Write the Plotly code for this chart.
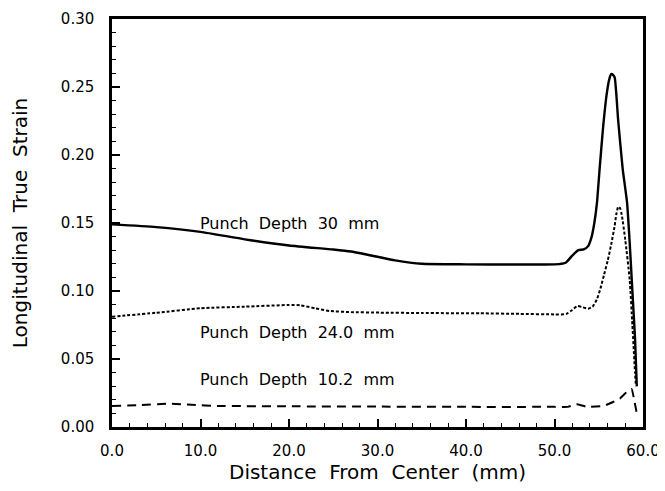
import plotly.graph_objects as go

# Punch depth 30 mm (solid)
x30 = [0, 5, 10, 15, 20, 25, 27, 29, 32, 35, 40, 45, 49, 50.5, 51.3, 52.0, 52.7, 53.3, 53.8, 54.2, 54.5, 54.8, 55.1, 55.5, 55.9, 56.2, 56.4, 56.6, 56.8, 57.2, 57.7, 58.2, 58.5, 58.8, 59.1, 59.3]
y30 = [0.149, 0.147, 0.1435, 0.138, 0.1335, 0.1305, 0.129, 0.1265, 0.1225, 0.1200, 0.1196, 0.1195, 0.1195, 0.1198, 0.1210, 0.1260, 0.1300, 0.1306, 0.1330, 0.1400, 0.1500, 0.1650, 0.1900, 0.2210, 0.2450, 0.2560, 0.2595, 0.2590, 0.2570, 0.2250, 0.1900, 0.1650, 0.1350, 0.1000, 0.0650, 0.0300]

# Punch depth 24.0 mm (dotted)
x24 = [0, 5, 10, 15, 20, 21.3, 23, 24.6, 27, 30.3, 35, 41.6, 46, 50, 51.3, 52.0, 52.6, 53.2, 53.8, 54.3, 54.8, 55.2, 55.6, 56.0, 56.4, 56.8, 57.0, 57.2, 57.4, 57.6, 58.0, 58.5, 58.8, 59.1, 59.2]
y24 = [0.0811, 0.0840, 0.0873, 0.0885, 0.0897, 0.0895, 0.0872, 0.0853, 0.0845, 0.0841, 0.0838, 0.0836, 0.0832, 0.0828, 0.0830, 0.0860, 0.0890, 0.0880, 0.0870, 0.0885, 0.0940, 0.1020, 0.1120, 0.1220, 0.1340, 0.1480, 0.1570, 0.1620, 0.1610, 0.1560, 0.1375, 0.1080, 0.0750, 0.0400, 0.0300]

# Punch depth 10.2 mm (dashed)
x10 = [0, 3, 6.5, 9, 12, 20, 30, 40, 50, 51.5, 52.5, 53.6, 55.5, 56.5, 57.4, 58.2, 58.7, 59.0, 59.3]
y10 = [0.0155, 0.0160, 0.0172, 0.0163, 0.0155, 0.0152, 0.0150, 0.0148, 0.0148, 0.0148, 0.0167, 0.0150, 0.0155, 0.0180, 0.0210, 0.0260, 0.0280, 0.0200, 0.0100]

labels = ["Punch  Depth  30  mm", "Punch  Depth  24.0  mm", "Punch  Depth  10.2  mm"]
label_x = [9.7, 9.7, 9.7]
label_y = [0.150, 0.0694, 0.0346]

x_ticks = [0, 10, 20, 30, 40, 50, 60]
y_ticks = [0.00, 0.05, 0.10, 0.15, 0.20, 0.25, 0.30]

FONT = "DejaVu Sans, Verdana, sans-serif"

fig = go.Figure()
fig.add_trace(go.Scatter(x=x30, y=y30, mode="lines",
                         line=dict(color="black", width=2.4, shape="spline", smoothing=0.5)))
fig.add_trace(go.Scatter(x=x24, y=y24, mode="lines",
                         line=dict(color="black", width=2, dash="3px,2px", shape="spline", smoothing=0.5)))
fig.add_trace(go.Scatter(x=x10, y=y10, mode="lines",
                         line=dict(color="black", width=2, dash="9px,6px", shape="spline", smoothing=0.5)))

for t, xx, yy in zip(labels, label_x, label_y):
    fig.add_annotation(x=xx, y=yy, text=t, showarrow=False, xanchor="left", yanchor="middle",
                       font=dict(family=FONT, size=16, color="black"))

fig.update_layout(
    width=657, height=483,
    margin=dict(l=104, r=22, t=11, b=64, autoexpand=False),
    paper_bgcolor="white", plot_bgcolor="white",
    showlegend=False,
    font=dict(family=FONT, size=15, color="black"),
)
fig.update_xaxes(
    range=[0, 60], tickvals=x_ticks, tickformat=".1f", automargin=False,
    ticks="inside", ticklen=8, tickwidth=1.5, tickcolor="black", ticklabelstandoff=8,
    minor=dict(ticks="inside", dtick=2, ticklen=4, tickwidth=1.2, tickcolor="black"),
    showline=True, linewidth=2.5, linecolor="black", mirror=True,
    showgrid=False, zeroline=False,
    title=dict(text="Distance  From  Center  (mm)", font=dict(family=FONT, size=20), standoff=0),
    tickfont=dict(family=FONT, size=15),
)
fig.update_yaxes(
    range=[0, 0.30], tickvals=y_ticks, tickformat=".2f", automargin=False,
    ticks="inside", ticklen=8, tickwidth=1.5, tickcolor="black", ticklabelstandoff=12,
    minor=dict(ticks="inside", dtick=0.01, ticklen=4, tickwidth=1.2, tickcolor="black"),
    showline=True, linewidth=2.5, linecolor="black", mirror=True,
    showgrid=False, zeroline=False,
    title=dict(text="Longitudinal  True  Strain", font=dict(family=FONT, size=20), standoff=28),
    tickfont=dict(family=FONT, size=15),
)

fig.write_html("out.html")
